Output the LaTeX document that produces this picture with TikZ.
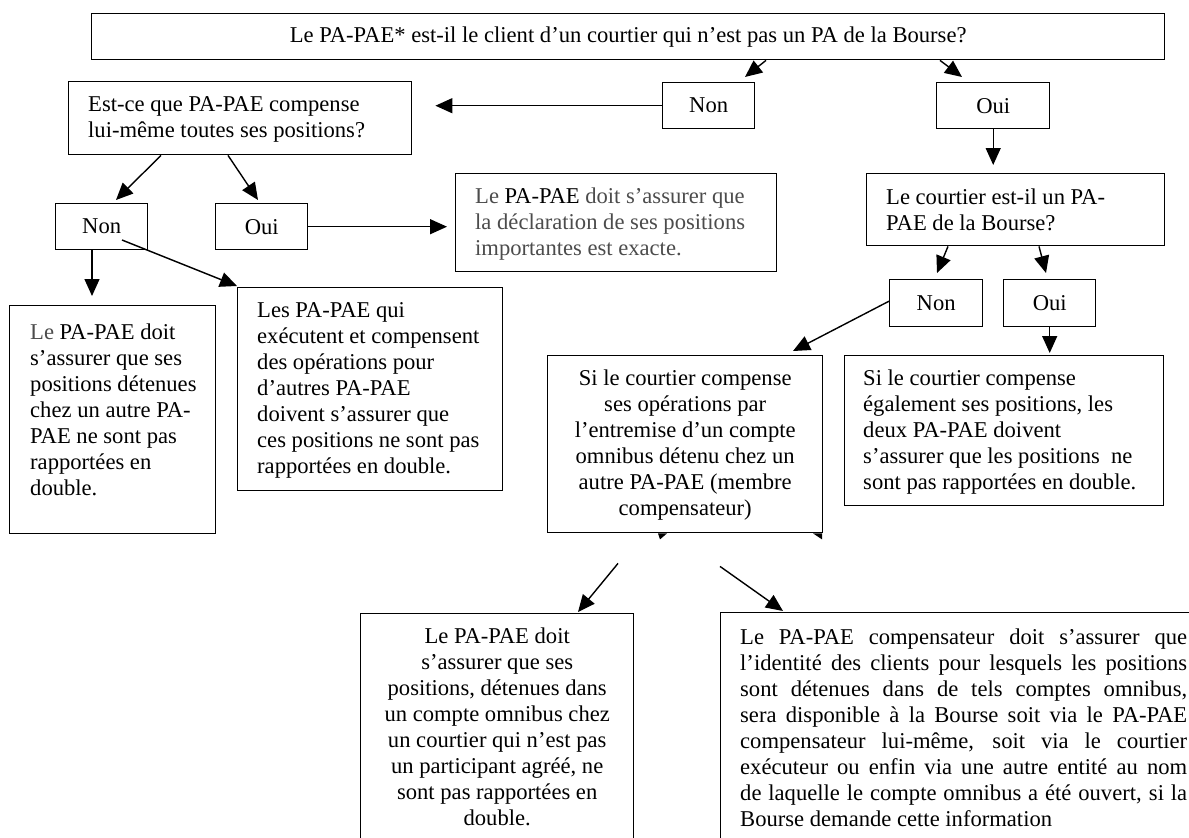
\documentclass[tikz,border=0pt]{standalone}
\usepackage{fontspec}
\setmainfont{Liberation Serif}
\usetikzlibrary{arrows.meta,calc}
\definecolor{txtgray}{gray}{0.3}
\begin{document}
\begin{tikzpicture}[x=1pt,y=-1pt,
  box/.style={draw,line width=1.4pt,rectangle,inner sep=0pt,anchor=north west,
    font=\fontsize{22.6}{26}\selectfont},
  txt/.style={inner sep=0pt,anchor=north west,align=left,
    font=\fontsize{22.6}{26}\selectfont},
  ctxt/.style={inner sep=0pt,anchor=north,align=center,
    font=\fontsize{22.6}{26}\selectfont},
  arr/.style={line width=1.4pt,-{Triangle[length=17pt,width=15pt]}}]
\fill[white] (0,0) rectangle (1189,838);
\useasboundingbox (0,0) rectangle (1189,838);
\clip (0,0) rectangle (1189,838);

% boxes
\node[box,minimum width=1073pt,minimum height=46pt] (top) at (91,13)
  {Le PA-PAE* est-il le client d’un courtier qui n’est pas un PA de la Bourse?};
\node[box,minimum width=92pt,minimum height=46pt] (non1) at (662,82) {Non};
\node[box,minimum width=113pt,minimum height=46pt] (oui1) at (936,82) {Oui};
\node[box,minimum width=343pt,minimum height=73pt] (q1) at (68,81) {};
\node[txt] (q1t) at ([xshift=20pt,yshift=-15pt]q1.north west)
  {Est-ce que PA-PAE compense\\lui-même toutes ses positions?};
\node[box,minimum width=321pt,minimum height=98pt] (decl) at (455,173) {};
\node[txt,text=txtgray] (declt) at ([xshift=20pt,yshift=-15pt]decl.north west)
  {Le \textcolor{black}{PA-PAE} doit s’assurer que\\la déclaration de ses positions\\importantes est exacte.};
\node[box,minimum width=298pt,minimum height=72pt] (court) at (866,173) {};
\node[txt] (courtt) at ([xshift=20pt,yshift=-16pt]court.north west)
  {Le courtier est-il un PA-\\PAE de la Bourse?};
\node[box,minimum width=92pt,minimum height=46pt] (nonL) at (55,203) {Non};
\node[box,minimum width=92pt,minimum height=46pt] (ouiL) at (215,203) {Oui};
\node[box,minimum width=206pt,minimum height=228pt] (lb) at (9,305) {};
\node[txt] (lbt) at ([xshift=21pt,yshift=-19pt]lb.north west)
  {\textcolor{txtgray}{Le} PA-PAE doit\\s’assurer que ses\\positions détenues\\chez un autre PA-\\PAE ne sont pas\\rapportées en\\double.};
\node[box,minimum width=265pt,minimum height=203pt] (les) at (237,287) {};
\node[txt] (lest) at ([xshift=20pt,yshift=-15pt]les.north west)
  {Les PA-PAE qui\\exécutent et compensent\\des opérations pour\\d’autres PA-PAE\\doivent s’assurer que\\ces positions ne sont pas\\rapportées en double.};
\node[box,minimum width=93pt,minimum height=47pt] (nonR) at (889,279) {Non};
\node[box,minimum width=92pt,minimum height=47pt] (ouiR) at (1003,279) {Oui};
\node[box,minimum width=275pt,minimum height=177pt] (sic) at (547,355) {};
\node[ctxt] (sict) at ([yshift=-15pt]sic.north)
  {Si le courtier compense\\ses opérations par\\l’entremise d’un compte\\omnibus détenu chez un\\autre PA-PAE (membre\\compensateur)};
\node[box,minimum width=319pt,minimum height=150pt] (sie) at (844,355) {};
\node[txt] (siet) at ([xshift=19pt,yshift=-15pt]sie.north west)
  {Si le courtier compense\\également ses positions, les\\deux PA-PAE doivent\\s’assurer que les positions~ ne\\sont pas rapportées en double.};
\node[box,minimum width=273pt,minimum height=240pt] (bl) at (360,613) {};
\node[ctxt] (blt) at ([yshift=-15pt]bl.north)
  {Le PA-PAE doit\\s’assurer que ses\\positions, détenues dans\\un compte omnibus chez\\un courtier qui n’est pas\\un participant agréé, ne\\sont pas rapportées en\\double.};
\node[box,minimum width=500pt,minimum height=240pt] (br) at (720,612) {};
\node[txt,text width=447pt,align=justify] (brt) at ([xshift=20pt,yshift=-17pt]br.north west)
  {Le PA-PAE compensateur doit s’assurer que\linebreak
   l’identité des clients pour lesquels les positions\linebreak
   sont détenues dans de tels comptes omnibus,\linebreak
   sera disponible à la Bourse soit via le PA-PAE\linebreak
   compensateur lui-même, soit via le courtier\linebreak
   exécuteur ou enfin via une autre entité au nom\linebreak
   de laquelle le compte omnibus a été ouvert, si la\linebreak
   Bourse demande cette information};

% small marks under the omnibus box
\fill ([xshift=111pt]sic.south west) -- ++(9,0) -- ++(-7,6) -- cycle;
\fill ([xshift=266pt]sic.south west) -- ++(9,0) -- ++(0,6) -- cycle;

% connectors
\draw[arr] ([xshift=675pt]top.south west) -- ([xshift=83pt,yshift=5pt]non1.north west);
\draw[arr] ([xshift=849pt]top.south west) -- ([xshift=26pt,yshift=5pt]oui1.north west);
\draw[arr] (non1.west) -- ([xshift=23pt]non1.west -| q1.east);
\draw[arr] (oui1.south) -- ([yshift=8pt]oui1.south |- court.north);
\draw[arr] ([xshift=93pt]q1.south west) -- ([xshift=61pt,yshift=3pt]nonL.north west);
\draw[arr] ([xshift=160pt]q1.south west) -- ([xshift=43pt,yshift=3pt]ouiL.north west);
\draw[arr] (ouiL.east) -- ([xshift=-8pt]ouiL.east -| decl.west);
\draw[arr] ([xshift=37pt]nonL.south west) -- ([xshift=37pt,yshift=9pt]nonL.south west |- lb.north);
\draw[arr] ([xshift=67pt,yshift=-37pt]nonL.north west) -- ([yshift=1pt]les.north west);
\draw[arr] ([xshift=82pt]court.south west) -- ([xshift=48pt,yshift=6pt]nonR.north west);
\draw[arr] ([xshift=173pt]court.south west) -- ([xshift=43pt,yshift=6pt]ouiR.north west);
\draw[arr] ([yshift=2pt]nonR.west) -- ([xshift=246pt,yshift=4pt]sic.north west);
\draw[arr] (ouiR.south) -- ([yshift=2pt]ouiR.south |- sie.north);
\draw[arr] ([xshift=71pt,yshift=-30pt]sic.south west) -- ([xshift=218pt,yshift=1pt]bl.north west);
\draw[arr] ([xshift=173pt,yshift=-33pt]sic.south west) -- ([xshift=63pt,yshift=1pt]br.north west);
\end{tikzpicture}
\end{document}
